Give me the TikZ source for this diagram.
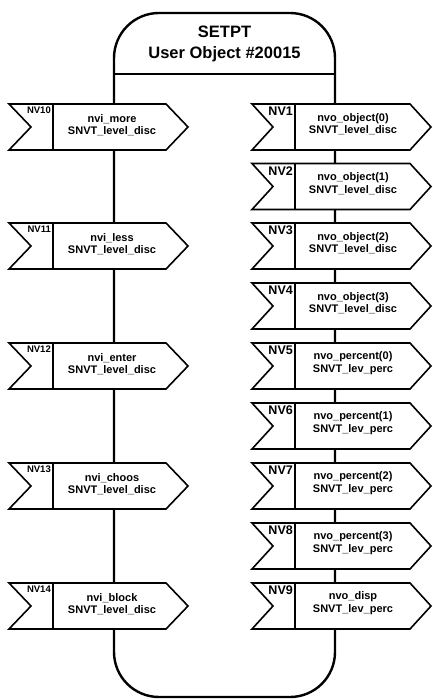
\documentclass[tikz,border=0pt]{standalone}
\usepackage{fontspec}
\setmainfont{Liberation Sans}
\tikzset{
  body/.style={draw=black, line width=2.4pt},
  arr/.style={draw=black, line width=1.6pt, fill=white, line join=miter},
  divline/.style={draw=black, line width=1.6pt},
  lbl/.style={font=\fontsize{11}{12.5}\selectfont\bfseries, align=center, inner sep=0pt},
  nvin/.style={font=\fontsize{9.5}{10}\selectfont\bfseries, inner sep=0pt, anchor=north east},
  nvout/.style={font=\fontsize{12.5}{13}\selectfont\bfseries, inner sep=0pt, anchor=north east},
  title/.style={font=\fontsize{16.5}{21}\selectfont\bfseries, align=center, inner sep=0pt}
}
\newcommand\inarrow[5]{%
  \draw[arr] (9,#1) -- (166,#1) -- (188,#1+23) -- (166,#1+46) -- (9,#1+46) -- (31,#1+23) -- cycle;
  \draw[divline] (53,#1) -- (53,#1+46);
  \node[nvin] (#5nv) at (51,#1+3) {#2};
  \node[lbl] (#5) at (112,#1+21) {#3\\#4};
}
\newcommand\outarrow[5]{%
  \draw[arr] (252,#1) -- (410,#1) -- (431,#1+23) -- (410,#1+46) -- (252,#1+46) -- (273,#1+23) -- cycle;
  \draw[divline] (295,#1) -- (295,#1+46);
  \node[nvout] (#5nv) at (293,#1+3) {#2};
  \node[lbl] (#5) at (353,#1+20) {#3\\#4};
}
\begin{document}
\begin{tikzpicture}[x=1pt,y=-1pt]
\useasboundingbox (0,0) rectangle (432,700);
\fill[white] (0,0) rectangle (432,700);
% body outline
\draw[body, rounded corners=45pt] (114,74) -- (114,13) -- (335,13) -- (335,74);
\draw[body] (114,74) -- (335,74);
\draw[body, rounded corners=45pt] (114,74) -- (114,697) -- (335,697) -- (335,74);
\node[title] (ttl) at (224.5,44) {SETPT\\User Object \#20015};
% inputs
\inarrow{104}{NV10}{nvi\_more}{SNVT\_level\_disc}{nvten}
\inarrow{223}{NV11}{nvi\_less}{SNVT\_level\_disc}{nveleven}
\inarrow{343}{NV12}{nvi\_enter}{SNVT\_level\_disc}{nvtwelve}
\inarrow{463}{NV13}{nvi\_choos}{SNVT\_level\_disc}{nvthirteen}
\inarrow{583}{NV14}{nvi\_block}{SNVT\_level\_disc}{nvfourteen}
% outputs
\outarrow{104}{NV1}{nvo\_object(0)}{SNVT\_level\_disc}{nvone}
\outarrow{163.5}{NV2}{nvo\_object(1)}{SNVT\_level\_disc}{nvtwo}
\outarrow{223}{NV3}{nvo\_object(2)}{SNVT\_level\_disc}{nvthree}
\outarrow{283}{NV4}{nvo\_object(3)}{SNVT\_level\_disc}{nvfour}
\outarrow{343}{NV5}{nvo\_percent(0)}{SNVT\_lev\_perc}{nvfive}
\outarrow{403}{NV6}{nvo\_percent(1)}{SNVT\_lev\_perc}{nvsix}
\outarrow{463}{NV7}{nvo\_percent(2)}{SNVT\_lev\_perc}{nvseven}
\outarrow{523}{NV8}{nvo\_percent(3)}{SNVT\_lev\_perc}{nveight}
\outarrow{583}{NV9}{nvo\_disp}{SNVT\_lev\_perc}{nvnine}
\end{tikzpicture}
\end{document}
